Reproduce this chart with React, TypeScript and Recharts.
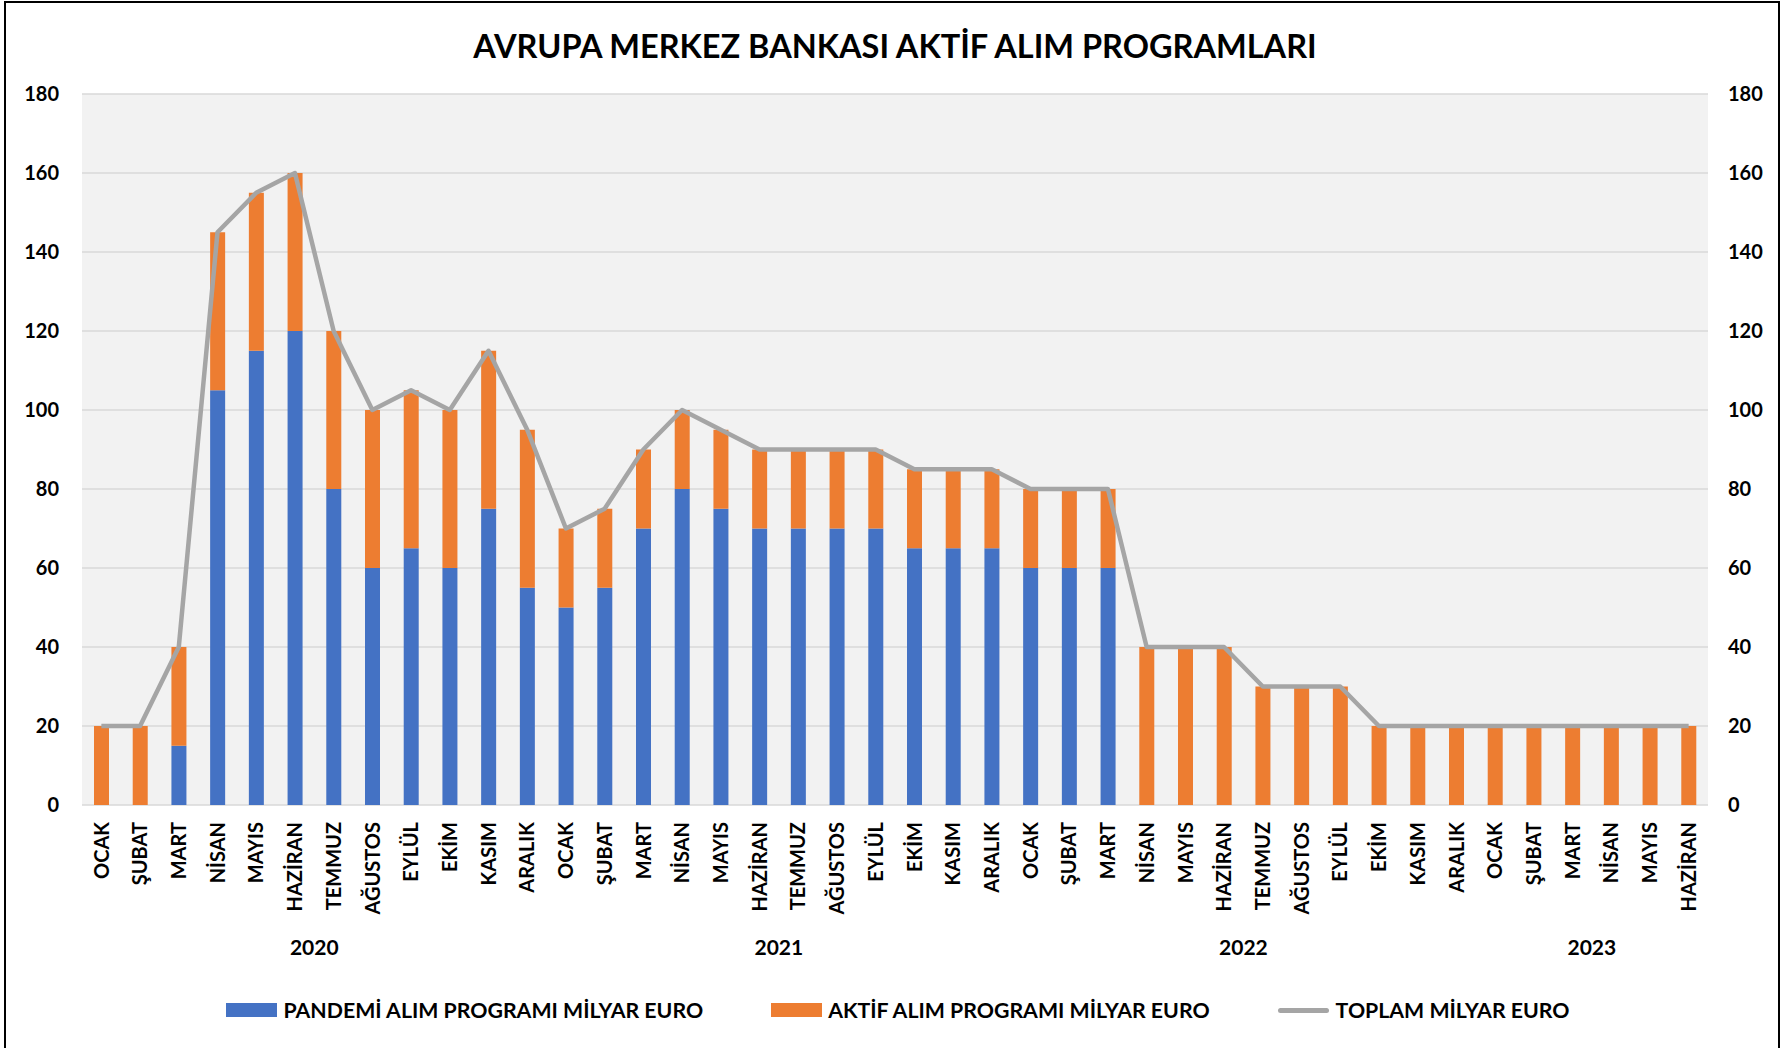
import React from 'react';
import { ComposedChart, Bar, Line, XAxis, YAxis, CartesianGrid } from 'recharts';

// Month labels, Jan 2020 - Jun 2023
const months = [
  'OCAK', 'ŞUBAT', 'MART', 'NİSAN', 'MAYIS', 'HAZİRAN', 'TEMMUZ', 'AĞUSTOS', 'EYLÜL', 'EKİM', 'KASIM', 'ARALIK',
  'OCAK', 'ŞUBAT', 'MART', 'NİSAN', 'MAYIS', 'HAZİRAN', 'TEMMUZ', 'AĞUSTOS', 'EYLÜL', 'EKİM', 'KASIM', 'ARALIK',
  'OCAK', 'ŞUBAT', 'MART', 'NİSAN', 'MAYIS', 'HAZİRAN', 'TEMMUZ', 'AĞUSTOS', 'EYLÜL', 'EKİM', 'KASIM', 'ARALIK',
  'OCAK', 'ŞUBAT', 'MART', 'NİSAN', 'MAYIS', 'HAZİRAN',
];

const pandemi = [
  0, 0, 15, 105, 115, 120, 80, 60, 65, 60, 75, 55,
  50, 55, 70, 80, 75, 70, 70, 70, 70, 65, 65, 65,
  60, 60, 60, 0, 0, 0, 0, 0, 0, 0, 0, 0,
  0, 0, 0, 0, 0, 0,
];

const aktif = [
  20, 20, 25, 40, 40, 40, 40, 40, 40, 40, 40, 40,
  20, 20, 20, 20, 20, 20, 20, 20, 20, 20, 20, 20,
  20, 20, 20, 40, 40, 40, 30, 30, 30, 20, 20, 20,
  20, 20, 20, 20, 20, 20,
];

const toplam = [
  20, 20, 40, 145, 155, 160, 120, 100, 105, 100, 115, 95,
  70, 75, 90, 100, 95, 90, 90, 90, 90, 85, 85, 85,
  80, 80, 80, 40, 40, 40, 30, 30, 30, 20, 20, 20,
  20, 20, 20, 20, 20, 20,
];

// year labels sit at the middle of each group (position in category units)
const yearTicks = [6, 18, 30, 39];
const yearLabels = ['2020', '2021', '2022', '2023'];
const yTicks = [0, 20, 40, 60, 80, 100, 120, 140, 160, 180];

const data = months.map((m, i) => ({
  idx: i,
  month: m,
  pandemi: pandemi[i],
  aktif: aktif[i],
  toplam: toplam[i],
}));

const FONT = 'Lato, "Open Sans", sans-serif';

const MonthTick = ({ x, y, payload }: any) => (
  <text
    x={x}
    y={y}
    transform={`rotate(-90, ${x}, ${y})`}
    textAnchor="end"
    dy="0.36em"
    fill="#000"
    fontSize={20}
    fontWeight={700}
    fontFamily={FONT}
  >
    {payload.value}
  </text>
);

const legendItems = [
  { label: 'PANDEMİ ALIM PROGRAMI MİLYAR EURO', color: '#4472C4', type: 'rect' },
  { label: 'AKTİF ALIM PROGRAMI MİLYAR EURO', color: '#ED7D31', type: 'rect' },
  { label: 'TOPLAM MİLYAR EURO', color: '#A5A5A5', type: 'line' },
];

export default function App() {
  return (
    <div
      style={{
        position: 'absolute',
        left: 0,
        top: 0,
        width: 1785,
        height: 1048,
        overflow: 'hidden',
        background: '#fff',
        fontFamily: FONT,
      }}
    >
      {/* outer frame */}
      <div
        style={{
          position: 'absolute',
          left: 4,
          top: 1,
          width: 1772,
          height: 1070,
          border: '2px solid #000',
        }}
      />
      <div
        style={{
          position: 'absolute',
          left: 0,
          top: 27,
          width: 1790,
          textAlign: 'center',
          fontSize: 32.5,
          lineHeight: '38px',
          fontWeight: 700,
          color: '#000',
        }}
      >
        AVRUPA MERKEZ BANKASI AKTİF ALIM PROGRAMLARI
      </div>

      <div style={{ position: 'absolute', left: 0, top: 0 }}>
        <ComposedChart
          width={1785}
          height={1048}
          data={data}
          margin={{ top: 94, right: 0, bottom: 78, left: 0 }}
          barGap={0}
        >
          <CartesianGrid vertical={false} stroke="#D9D9D9" strokeWidth={1.5} fill="#F2F2F2" />
          <XAxis
            dataKey="month"
            height={125}
            interval={0}
            axisLine={false}
            tickLine={false}
            tickSize={0}
            tickMargin={17}
            tick={<MonthTick />}
          />
          <XAxis
            xAxisId="year"
            dataKey="idx"
            type="number"
            domain={[0, 42]}
            allowDataOverflow
            ticks={yearTicks}
            interval={0}
            height={40}
            axisLine={false}
            tickLine={false}
            tickSize={0}
            tickMargin={10}
            tickFormatter={(v: number) => yearLabels[yearTicks.indexOf(v)]}
            tick={{ fill: '#000', fontSize: 21, fontWeight: 700 }}
          />
          <YAxis
            width={82}
            domain={[0, 180]}
            ticks={yTicks}
            interval={0}
            axisLine={false}
            tickLine={false}
            tickSize={0}
            tickMargin={23}
            tick={{ fill: '#000', fontSize: 20, fontWeight: 700 }}
          />
          <YAxis
            yAxisId="right"
            orientation="right"
            width={77}
            domain={[0, 180]}
            ticks={yTicks}
            interval={0}
            axisLine={false}
            tickLine={false}
            tickSize={0}
            tickMargin={20}
            tick={{ fill: '#000', fontSize: 20, fontWeight: 700, textAnchor: 'start' }}
          />
          <Bar dataKey="pandemi" stackId="a" fill="#4472C4" barSize={15} isAnimationActive={false} />
          <Bar dataKey="aktif" stackId="a" fill="#ED7D31" barSize={15} isAnimationActive={false} />
          <Line
            yAxisId="right"
            type="linear"
            dataKey="toplam"
            stroke="#A5A5A5"
            strokeWidth={4.5}
            strokeLinejoin="round"
            dot={false}
            activeDot={false}
            isAnimationActive={false}
          />
        </ComposedChart>
      </div>

      {/* legend */}
      <div
        style={{
          position: 'absolute',
          left: 0,
          top: 996,
          width: 1796,
          height: 28,
          display: 'flex',
          justifyContent: 'center',
          alignItems: 'center',
          gap: 68,
          fontSize: 21.3,
          fontWeight: 700,
          color: '#000',
        }}
      >
        {legendItems.map((it) => (
          <div key={it.label} style={{ display: 'flex', alignItems: 'center' }}>
            {it.type === 'rect' ? (
              <div style={{ width: 51, height: 14, background: it.color, marginRight: 6 }} />
            ) : (
              <div
                style={{ width: 51, height: 5, borderRadius: 3, background: it.color, marginRight: 7 }}
              />
            )}
            <span>{it.label}</span>
          </div>
        ))}
      </div>
    </div>
  );
}
